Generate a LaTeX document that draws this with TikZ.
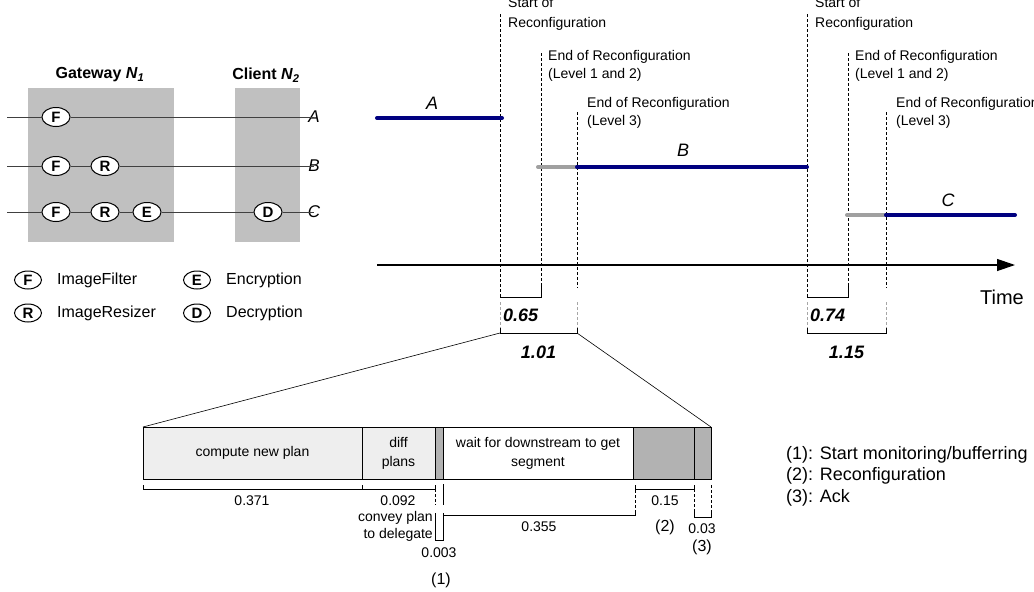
\documentclass[tikz,border=0pt]{standalone}
\usepackage{fontspec}
\setmainfont{Liberation Sans}
\usetikzlibrary{arrows.meta,positioning,shapes.geometric}
\definecolor{navyline}{RGB}{0,0,128}
\definecolor{grayline}{RGB}{160,160,160}
\definecolor{boxgray}{RGB}{192,192,192}
\definecolor{lightfill}{RGB}{238,238,238}
\definecolor{darkfill}{RGB}{178,178,178}
\begin{document}
\begin{tikzpicture}[x=1pt,y=-1pt]
 \tikzset{
  op/.style={ellipse, draw, line width=1pt, fill=white, inner sep=0pt, minimum width=28pt, minimum height=19pt, font=\fontsize{15}{16}\selectfont\bfseries},
  opkey/.style={op, minimum width=27pt, minimum height=18pt},
  strm/.style={black!75, line width=0.9pt},
  run/.style={navyline, line width=4pt, line cap=round},
  trans/.style={grayline, line width=4pt, line cap=round},
  evline/.style={dash pattern=on 3pt off 2pt, line width=0.7pt},
  evlabel/.style={align=left, anchor=west, inner sep=0pt, font=\fontsize{14}{18}\selectfont},
  seg/.style={draw, line width=0.8pt, minimum height=52pt, inner sep=0pt, outer sep=0pt, align=center, font=\fontsize{14}{19}\selectfont},
  val/.style={inner sep=0pt, font=\fontsize{14}{17}\selectfont},
  idx/.style={inner sep=0pt, font=\fontsize{16}{18}\selectfont}
 }
 \useasboundingbox (0,0) rectangle (1034,592);

 % nodes N1 and N2
 \fill [boxgray] (28,88) rectangle (174,242);
 \fill [boxgray] (235,88) rectangle (300,242);
 \node [font=\fontsize{16}{18}\selectfont\bfseries] (gw) at (100,75) {Gateway \textit{N}\textsubscript{\textit{1}}};
 \node [font=\fontsize{16}{18}\selectfont\bfseries] (cl) at (266,75) {Client \textit{N}\textsubscript{\textit{2}}};

 \foreach \n/\y in {A/117, B/166, C/212} {
  \coordinate (in\n) at (7,\y);
  \node [font=\fontsize{17}{19}\selectfont\itshape, inner sep=0pt] (\n) at (314,\y) {\n};
 }
 \node [op] (fa) at (56,117) {F};
 \node [op] (fb) at (56,166) {F};
 \node [op] (rb) at (105,166) {R};
 \node [op] (fc) at (56,212) {F};
 \node [op] (rc) at (105,212) {R};
 \node [op] (ec) at (147,212) {E};
 \node [op] (dc) at (268,212) {D};
 \foreach \src/\dst in {inA/fa, inB/fb, fb/rb, inC/fc, fc/rc, rc/ec, ec/dc}
  { \draw [strm] (\src) -- (\dst); }
 \foreach \src/\dst in {fa/A, rb/B, dc/C}
  { \draw [strm] (\src) -- (\dst.center); }

 % legend of operators
 \foreach \k/\x/\y/\t in {F/28/280/ImageFilter, R/28/313/ImageResizer, E/197/280/Encryption, D/197/313/Decryption} {
  \node [opkey] (key\k) at (\x,\y) {\k};
  \node [right=15pt of key\k, inner sep=0pt, font=\fontsize{16}{18}\selectfont] {\t};
 }

 % time line
 \coordinate (t0) at (377,265);
 \coordinate (t1) at (1015,265);
 \draw [-{Triangle[length=18pt,width=12pt]}, line width=1.2pt] (t0) -- (t1);
 \node [font=\fontsize{20}{24}\selectfont] (time) at (1002,297) {Time};

 \foreach \s/\e/\f/\p/\q [count=\i] in {500/541/577/0.65/1.01, 807/848/886/0.74/1.15} {
  \draw [evline] (\s,14) -- (\s,297);
  \draw [evline] (\e,53) -- (\e,297);
  \draw [evline] (\f,112) -- (\f,288);
  \node [evlabel, font=\fontsize{14}{20}\selectfont] (st\i) at (\s+8,14) {Start of\\Reconfiguration};
  \node [evlabel] (ea\i) at (\e+7,66) {End of Reconfiguration\\(Level 1 and 2)};
  \node [evlabel] (eb\i) at (\f+10,113) {End of Reconfiguration\\(Level 3)};
  \draw [line width=0.8pt] (\s,297) -- (\e,297) -- (\e,284);
  \draw [evline, black!35] (\s,302) -- (\s,328);
  \draw [evline, black!35] (\f,302) -- (\f,328);
  \coordinate (lo\i) at (\s,333);
  \coordinate (hi\i) at (\f,333);
  \draw [line width=0.8pt] (\s,328) -- (lo\i) -- (hi\i) -- (\f,328);
  \node [font=\fontsize{18}{20}\selectfont\bfseries\itshape, anchor=west, inner sep=0pt] at (\s+3,315) {\p};
  \node [font=\fontsize{18}{20}\selectfont\bfseries\itshape] at ({(\s+\f)/2},352) {\q};
 }

 % configurations A, B, C
 \coordinate (a0) at (377,118);
 \coordinate (a1) at (502,118);
 \coordinate (b0) at (538,167);
 \coordinate (b1) at (577,167);
 \coordinate (b2) at (807,167);
 \coordinate (c0) at (847,215);
 \coordinate (c1) at (886,215);
 \coordinate (c2) at (1015,215);
 \draw [run] (a0) -- (a1);
 \draw [trans] (b0) -- (b1);
 \draw [run] (b1) -- (b2);
 \draw [trans] (c0) -- (c1);
 \draw [run] (c1) -- (c2);
 \node [font=\fontsize{18}{20}\selectfont\itshape] (la) at (432,103) {A};
 \node [font=\fontsize{18}{20}\selectfont\itshape] (lb) at (683,150) {B};
 \node [font=\fontsize{18}{20}\selectfont\itshape] (lc) at (948,200) {C};

 % breakdown of the first reconfiguration
 \node [seg, fill=lightfill, minimum width=219pt, anchor=north west] (cmp) at (143,427) {compute new plan};
 \node [seg, fill=lightfill, minimum width=73pt, right=0pt of cmp] (dif) {diff\\plans};
 \node [seg, fill=darkfill, minimum width=8pt, right=0pt of dif] (cnv) {};
 \node [seg, fill=white, minimum width=190pt, right=0pt of cnv] (wt) {wait for downstream to get\\segment};
 \node [seg, fill=darkfill, minimum width=61pt, right=0pt of wt] (rcf) {};
 \node [seg, fill=darkfill, minimum width=17pt, right=0pt of rcf] (ack) {};
 \draw [line width=0.6pt] (lo1) -- (cmp.north west);
 \draw [line width=0.6pt] (hi1) -- (ack.north east);

 \draw [line width=0.8pt] (143,485) |- (362,489) -- (362,485);
 \draw [line width=0.8pt] (362,489) -- (435,489) -- (435,485);
 \draw [evline] (435,489) -- (435,505);
 \draw [line width=0.8pt] (443,484) -- (443,505);
 \draw [line width=0.8pt] (435,513) |- (443,540) -- (443,513);
 \draw [line width=0.8pt] (443,515) -| (635,510);
 \draw [evline] (635,485) -- (635,510);
 \draw [line width=0.8pt] (635,485) |- (694,489) -- (694,485);
 \draw [evline] (694,489) -- (694,510);
 \draw [evline] (711,485) -- (711,510);
 \draw [line width=0.8pt] (694,510) |- (711,517) -- (711,510);

 \node [val] at (252,501) {0.371};
 \node [val] at (398,501) {0.092};
 \node [val, align=right, anchor=east] at (433,526) {convey plan\\to delegate};
 \node [val] at (439,553) {0.003};
 \node [val] at (539,527) {0.355};
 \node [val] at (665,501) {0.15};
 \node [val] at (702,529) {0.03};
 \node [idx] at (441,580) {(1)};
 \node [idx] at (665,527) {(2)};
 \node [idx] at (702,547) {(3)};

 \node [align=left, anchor=west, inner sep=0pt, font=\fontsize{18}{21.5}\selectfont] (steps) at (786,476) {(1): Start monitoring/bufferring\\(2): Reconfiguration\\(3): Ack};
\end{tikzpicture}
\end{document}
